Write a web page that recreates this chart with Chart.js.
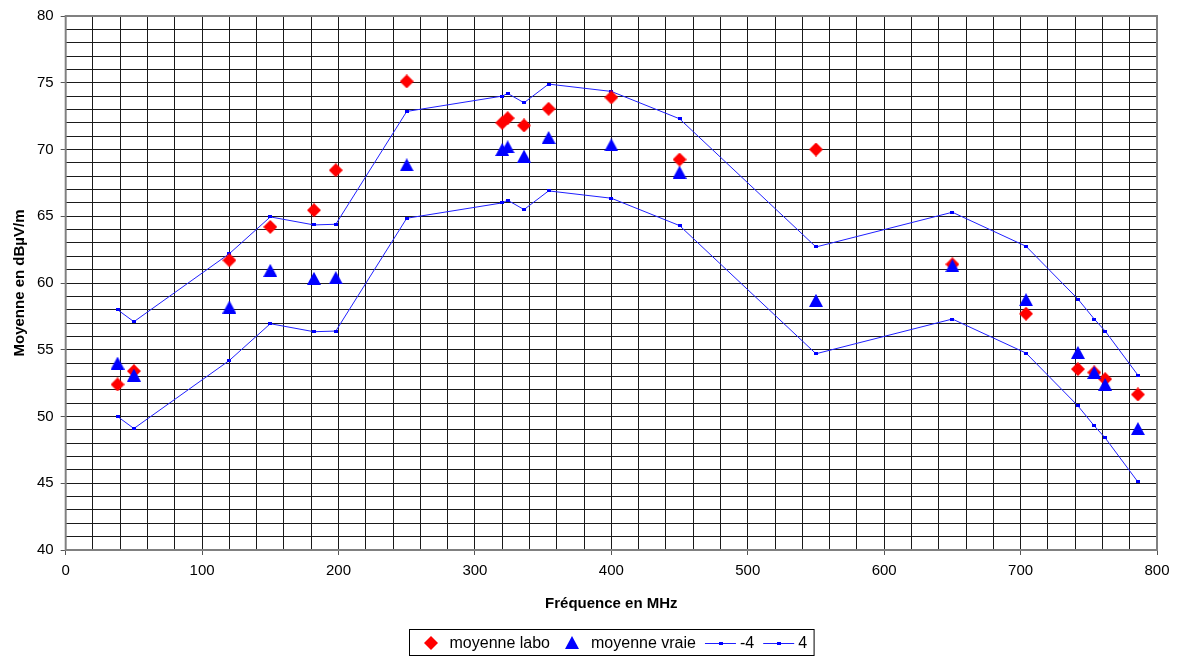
<!DOCTYPE html>
<html>
<head>
<meta charset="utf-8">
<script src="https://cdn.jsdelivr.net/npm/chart.js@4/dist/chart.umd.min.js"></script>
<style>
html, body { margin: 0; padding: 0; background: #fff; }
#wrap { width: 1182px; height: 657px; }
</style>
</head>
<body>
<div id="wrap"><canvas id="freq_graph"></canvas></div>
<script>
// fréquences des mesures (MHz)
const freqs         = [ 38,   50,  120,   150,   182,   198,   250,  320,  324,   336,   354,   400,   450,  550,  650,   704,   742,  754,  762,   786];
const moyenne_labo  = [52.4, 53.4, 61.7, 64.2,  65.45, 68.45, 75.1, 72.0, 72.35, 71.8,  73.05, 73.9,  69.25, 70.0, 61.4, 57.7,  53.55, 53.3, 52.8, 51.65];
const moyenne_vraie = [54.0, 53.1, 58.2, 60.95, 60.35, 60.4,  68.85, 70.0, 70.2,  69.5,  70.9,  70.35, 68.3,  58.7, 61.3, 58.75, 54.8,  53.3, 52.4, 49.1];
const limite_basse  = [50.0, 49.1, 54.2, 56.95, 56.35, 56.4,  64.85, 66.0, 66.2,  65.5,  66.9,  66.35, 64.3,  54.7, 57.3, 54.75, 50.8,  49.3, 48.4, 45.1];
const limite_haute  = [58.0, 57.1, 62.2, 64.95, 64.35, 64.4,  72.85, 74.0, 74.2,  73.5,  74.9,  74.35, 72.3,  62.7, 65.3, 62.75, 58.8,  57.3, 56.4, 53.1];

const x_tick_labels = [0, 100, 200, 300, 400, 500, 600, 700, 800];
const y_tick_labels = [40, 45, 50, 55, 60, 65, 70, 75, 80];

const FONT = '"Liberation Sans", Arial, sans-serif';

function to_points(ys){
    let pts = [];
    for (let i=0; i<freqs.length; i++){
        pts.push({x: freqs[i], y: ys[i]});
    }
    return pts;
}

// petits canvas servant de marqueurs (losange, triangle, tiret)
function make_marker(kind, w, h, color){
    const c = document.createElement('canvas');
    c.width  = w;
    c.height = h;
    const g = c.getContext('2d');
    g.fillStyle = color;
    g.beginPath();
    if (kind === 'diamond'){
        g.moveTo(w/2, 0);
        g.lineTo(w, h/2);
        g.lineTo(w/2, h);
        g.lineTo(0, h/2);
    } else if (kind === 'triangle'){
        g.moveTo(w/2, 0);
        g.lineTo(w, h);
        g.lineTo(0, h);
    } else {
        g.rect(0, 0, w, h);
    }
    g.closePath();
    g.fill();
    return c;
}

const diamond_red   = make_marker('diamond', 14, 14, '#ff0000');
const triangle_blue = make_marker('triangle', 14, 13, '#0000ff');
const dash_blue     = make_marker('dash', 4, 3, '#0000ff');

// cadre gris autour de la zone de tracé
const plot_frame = {
    id: 'plot_frame',
    beforeDatasetsDraw(chart){
        const a   = chart.chartArea;
        const ctx = chart.ctx;
        ctx.save();
        ctx.strokeStyle = '#808080';
        ctx.lineWidth   = 2;
        ctx.strokeRect(a.left, a.top, a.right - a.left, a.bottom - a.top);
        ctx.restore();
    }
};

// légende encadrée en bas, dessinée à la main
const boxed_legend = {
    id: 'boxed_legend',
    afterDraw(chart){
        const ctx = chart.ctx;
        const a   = chart.chartArea;
        ctx.save();
        ctx.font = '16px ' + FONT;
        let items = chart.data.datasets.map(ds => ({ds: ds, tw: ctx.measureText(ds.label).width}));
        let total = 8;
        for (let it of items){
            total += (it.ds.showLine ? 35 : 32) + it.tw + 9;
        }
        total -= 2;
        const h    = 26;
        const left = Math.round((a.left + a.right - total) / 2) + 0.5;
        const top  = chart.height - 27.5;
        const cy   = top + h / 2;
        ctx.strokeStyle = '#000';
        ctx.lineWidth   = 1;
        ctx.strokeRect(left, top, total, h);

        let pos = left + 8;
        for (let it of items){
            const ds = it.ds;
            let tx;
            if (ds.showLine){
                ctx.strokeStyle = ds.borderColor;
                ctx.lineWidth   = 1;
                ctx.beginPath();
                ctx.moveTo(pos, Math.round(cy) + 0.5);
                ctx.lineTo(pos + 31, Math.round(cy) + 0.5);
                ctx.stroke();
                ctx.drawImage(ds.pointStyle, Math.round(pos + 14), Math.round(cy) - 1);
                tx = pos + 35;
            } else {
                const img = ds.pointStyle;
                const cx  = pos + 13;
                ctx.drawImage(img, Math.round(cx - img.width/2), Math.round(cy - img.height/2));
                tx = pos + 32;
            }
            ctx.fillStyle    = '#000';
            ctx.textBaseline = 'middle';
            ctx.textAlign    = 'left';
            ctx.fillText(ds.label, tx, cy + 1);
            pos = tx + it.tw + 9;
        }
        ctx.restore();
    }
};

const ctx = document.getElementById('freq_graph').getContext('2d');
const myChart = new Chart(ctx, {
    type: 'scatter',
    data: {
        datasets: [
            {
                label: 'moyenne labo',
                data: to_points(moyenne_labo),
                pointStyle: diamond_red,
                pointRadius: 7,
                showLine: false,
                order: 1
            },
            {
                label: 'moyenne vraie',
                data: to_points(moyenne_vraie),
                pointStyle: triangle_blue,
                pointRadius: 7,
                showLine: false,
                order: 0
            },
            {
                label: '-4',
                data: to_points(limite_basse),
                showLine: true,
                borderColor: '#1f1fff',
                borderWidth: 1,
                pointStyle: dash_blue,
                pointRadius: 2,
                order: 2
            },
            {
                label: '4',
                data: to_points(limite_haute),
                showLine: true,
                borderColor: '#1f1fff',
                borderWidth: 1,
                pointStyle: dash_blue,
                pointRadius: 2,
                order: 2
            }
        ]
    },
    options: {
        responsive: true,
        maintainAspectRatio: false,
        animation: false,
        layout: {
            padding: {left: 11, right: 25, top: 15, bottom: 44}
        },
        scales: {
            x: {
                type: 'linear',
                min: 0,
                max: 800,
                grid: {
                    color: '#1a1a1a',
                    lineWidth: 1,
                    tickLength: 5,
                    tickColor: c => (c.tick && x_tick_labels.includes(c.tick.value)) ? '#555' : 'rgba(0,0,0,0)'
                },
                border: {display: false},
                ticks: {
                    stepSize: 20,
                    autoSkip: false,
                    maxRotation: 0,
                    padding: 7,
                    color: '#000',
                    font: {family: FONT, size: 15},
                    callback: v => x_tick_labels.includes(v) ? String(v) : ''
                },
                title: {
                    display: true,
                    text: 'Fréquence en MHz',
                    color: '#000',
                    font: {family: FONT, size: 15, weight: 'bold'},
                    padding: {top: 8, bottom: 0}
                }
            },
            y: {
                min: 40,
                max: 80,
                grid: {
                    color: '#1a1a1a',
                    lineWidth: 1,
                    tickLength: 5,
                    tickColor: c => (c.tick && y_tick_labels.includes(c.tick.value)) ? '#555' : 'rgba(0,0,0,0)'
                },
                border: {display: false},
                ticks: {
                    stepSize: 1,
                    autoSkip: false,
                    padding: 7,
                    color: '#000',
                    font: {family: FONT, size: 15},
                    callback: v => y_tick_labels.includes(v) ? String(v) : ''
                },
                title: {
                    display: true,
                    text: 'Moyenne en dBµV/m',
                    color: '#000',
                    font: {family: FONT, size: 15, weight: 'bold'},
                    padding: {top: 0, bottom: 1}
                }
            }
        },
        plugins: {
            legend: {display: false},
            tooltip: {enabled: false}
        }
    },
    plugins: [plot_frame, boxed_legend]
});
</script>
</body>
</html>
